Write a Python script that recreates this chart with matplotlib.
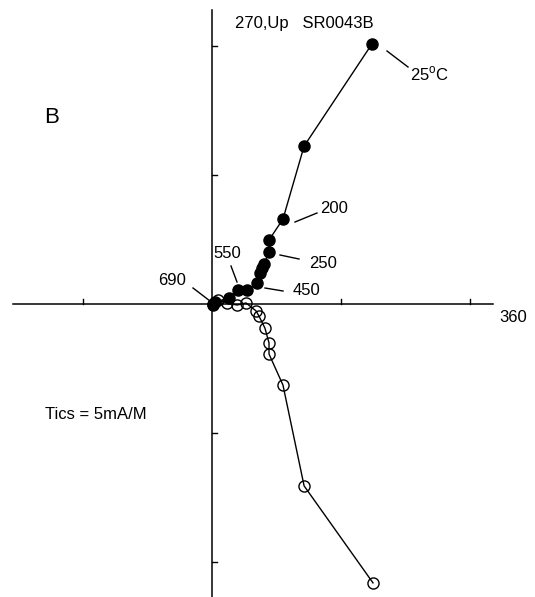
import matplotlib
matplotlib.use("Agg")
import matplotlib.pyplot as plt

plt.rcParams['font.family'] = ['Liberation Sans', 'DejaVu Sans']

# Zijderveld demag data (mA/m), origin at the centre of the cross
filled_x = [6.20, 3.57, 2.75, 2.21, 2.21, 2.02, 1.94, 1.86, 1.74, 1.36, 1.01, 0.66, 0.12, 0.04]
filled_y = [10.08, 6.12, 3.29, 2.48, 2.02, 1.55, 1.40, 1.20, 0.81, 0.54, 0.54, 0.23, 0.08, -0.04]

open_x = [0.04, 0.23, 0.58, 0.97, 1.32, 1.71, 1.82, 2.05, 2.21, 2.21, 2.75, 3.57, 6.24]
open_y = [0.00, 0.16, 0.04, -0.04, 0.04, -0.27, -0.47, -0.93, -1.51, -1.94, -3.14, -7.05, -10.81]

tick_vals = [-10, -5, 5, 10]
tick_step = 5  # Tics = 5mA/M

# step labels: text, baseline position (px), leader start/end (px)
step_labels = ["25$^\\mathregular{o}$C", "200", "250", "450", "550", "690"]
label_pos = [(410, 80), (320, 213), (309, 268), (293, 295), (213, 258), (158, 285)]
leader_from = [(387, 51), (295, 222), (280, 255), (265, 288), (231, 266), (193, 288)]
leader_to = [(408, 67), (317, 213), (299, 259), (283, 291), (237, 282), (210, 301)]

W, H = 535, 597
X0, Y0 = 212, 304      # origin in pixels
PPU = 129 / tick_step  # pixels per mA/m


def px(x, y):
    return (x - X0) / PPU, (Y0 - y) / PPU


fig = plt.figure(figsize=(W / 100, H / 100), dpi=100)
ax = fig.add_axes([0, 0, 1, 1])
ax.set_xlim(px(0, 0)[0], px(W, 0)[0])
ax.set_ylim(px(0, H)[1], px(0, 0)[1])
ax.axis('off')

# cross axes
ax.plot([px(13, 0)[0], px(493, 0)[0]], [0, 0], color='black', lw=1.1)
ax.plot([0, 0], [px(0, 597)[1], px(0, 10)[1]], color='black', lw=1.1)
tl = 5 / PPU
for v in tick_vals:
    if px(0, 597)[1] < v < px(0, 10)[1]:
        ax.plot([0, tl], [v, v], color='black', lw=1.0)
for v in [-5, 5, 10]:
    ax.plot([v, v], [0, tl], color='black', lw=1.0)

ax.plot(filled_x, filled_y, color='black', lw=1.0, marker='o', ms=8,
        mfc='black', mec='black', zorder=3)
ax.plot(open_x, open_y, color='black', lw=1.0, marker='o', ms=8,
        mfc='none', mec='black', mew=1.0, zorder=3)

for txt, p, a, b in zip(step_labels, label_pos, leader_from, leader_to):
    ax.text(*px(*p), txt, fontsize=12, ha='left', va='baseline')
    ax.plot([px(*a)[0], px(*b)[0]], [px(*a)[1], px(*b)[1]], color='black', lw=1.0)

ax.text(*px(235, 28), "270,Up   SR0043B", fontsize=12, ha='left', va='baseline')
ax.text(*px(499, 322), "360", fontsize=12, ha='left', va='baseline')
ax.text(*px(44, 123), "B", fontsize=16, ha='left', va='baseline')
ax.text(*px(45, 419), "Tics = 5mA/M", fontsize=12, ha='left', va='baseline')

fig.savefig("out.png", dpi=100)
